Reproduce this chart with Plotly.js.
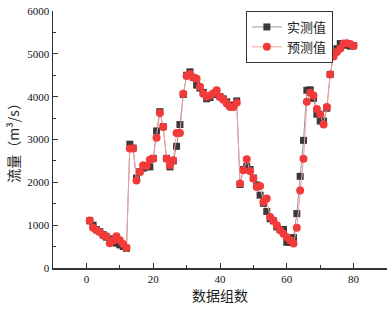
<!DOCTYPE html>
<html>
<head>
<meta charset="utf-8">
<script src="https://cdn.plot.ly/plotly-3.0.1.min.js"></script>
<style>html,body{margin:0;padding:0;background:#fff;}#chart{width:392px;height:309px;}</style>
</head>
<body>
<div id="chart"></div>
<script>
const groups = [];
for (let i = 1; i <= 80; i++) groups.push(i);

const measured = [
  1100, 1000, 900, 850, 780, 720, 680, 620, 580, 540,
  500, 460, 2890, 2800, 2100, 2250, 2330, 2360, 2360, 2560,
  3200, 3650, 3300, 2560, 2360, 2500, 2840, 3350, 4050, 4500,
  4580, 4450, 4270, 4200, 4100, 3950, 3980, 4050, 4100, 4000,
  3950, 3880, 3800, 3800, 3900, 1950, 2300, 2370, 2300, 2100,
  1940, 1700, 1510, 1320, 1150, 1100, 960, 900, 900, 600,
  600, 710, 1270, 2140, 2980, 4150, 4160, 3960, 3590, 3430,
  3430, 3730, 4520, 5000, 5120, 5240, 5220, 5200, 5180, 5190
];

const predicted = [
  1110, 940, 880, 840, 760, 740, 580, 640, 740, 650,
  560, 470, 2790, 2790, 2040, 2240, 2400, 2380, 2530, 2550,
  3040, 3620, 3290, 2550, 2400, 2515, 3150, 3150, 4070, 4480,
  4530, 4450, 4420, 4230, 4070, 4000, 4030, 4080, 4150, 3990,
  3930, 3840, 3760, 3760, 3860, 1970, 2280, 2540, 2260, 2090,
  1890, 1915, 1540, 1620, 1190, 1110, 1000, 880, 800, 720,
  650, 570, 940, 1810, 2550, 3880, 4090, 4030, 3710, 3590,
  3350, 3760, 4520, 4940, 5040, 5120, 5240, 5250, 5230, 5180
];

const seriesNames = ['实测值', '预测值'];
const xTitle = '数据组数';
const yTitle = '流量（m³/s）';

const serif = 'Liberation Serif, Times New Roman, serif';
const cjk = 'Noto Sans CJK SC, sans-serif';

const traces = [
  {
    x: groups, y: measured, name: seriesNames[0], type: 'scatter', mode: 'lines+markers',
    line: {color: '#9a9a9a', width: 1},
    marker: {symbol: 'square', size: 7, color: '#3a3a3a'}
  },
  {
    x: groups, y: predicted, name: seriesNames[1], type: 'scatter', mode: 'lines+markers',
    line: {color: '#f4a0a0', width: 1},
    marker: {symbol: 'circle', size: 8, color: '#f23a3a'}
  }
];

const axisCommon = {
  showgrid: false, zeroline: false, showline: true, linecolor: '#333', linewidth: 1.5,
  ticks: 'inside', ticklen: 5, tickwidth: 1, tickcolor: '#333',
  tickfont: {family: serif, size: 11, color: '#111'}
};

const layout = {
  width: 392, height: 309,
  margin: {l: 53, r: 5, t: 11, b: 41},
  paper_bgcolor: '#fff', plot_bgcolor: '#fff',
  showlegend: true,
  legend: {
    x: 0.838, xanchor: 'right', y: 1.0, yanchor: 'top',
    bgcolor: '#fff', bordercolor: '#333', borderwidth: 1,
    font: {family: cjk, size: 13, color: '#222'},
    tracegroupgap: 0, itemwidth: 30
  },
  xaxis: Object.assign({}, axisCommon, {
    range: [-10, 90], dtick: 20, tick0: 0,
    minor: {ticks: 'inside', dtick: 10, ticklen: 3, tickcolor: '#333'},
    title: {text: xTitle, font: {family: cjk, size: 14, color: '#222'}, standoff: 6}
  }),
  yaxis: Object.assign({}, axisCommon, {
    range: [0, 6000], dtick: 1000, tick0: 0,
    minor: {ticks: 'inside', dtick: 500, ticklen: 3, tickcolor: '#333'},
    title: {text: yTitle, font: {family: cjk, size: 14, color: '#222'}, standoff: 4}
  })
};

Plotly.newPlot('chart', traces, layout, {displayModeBar: false, staticPlot: true});
</script>
</body>
</html>
